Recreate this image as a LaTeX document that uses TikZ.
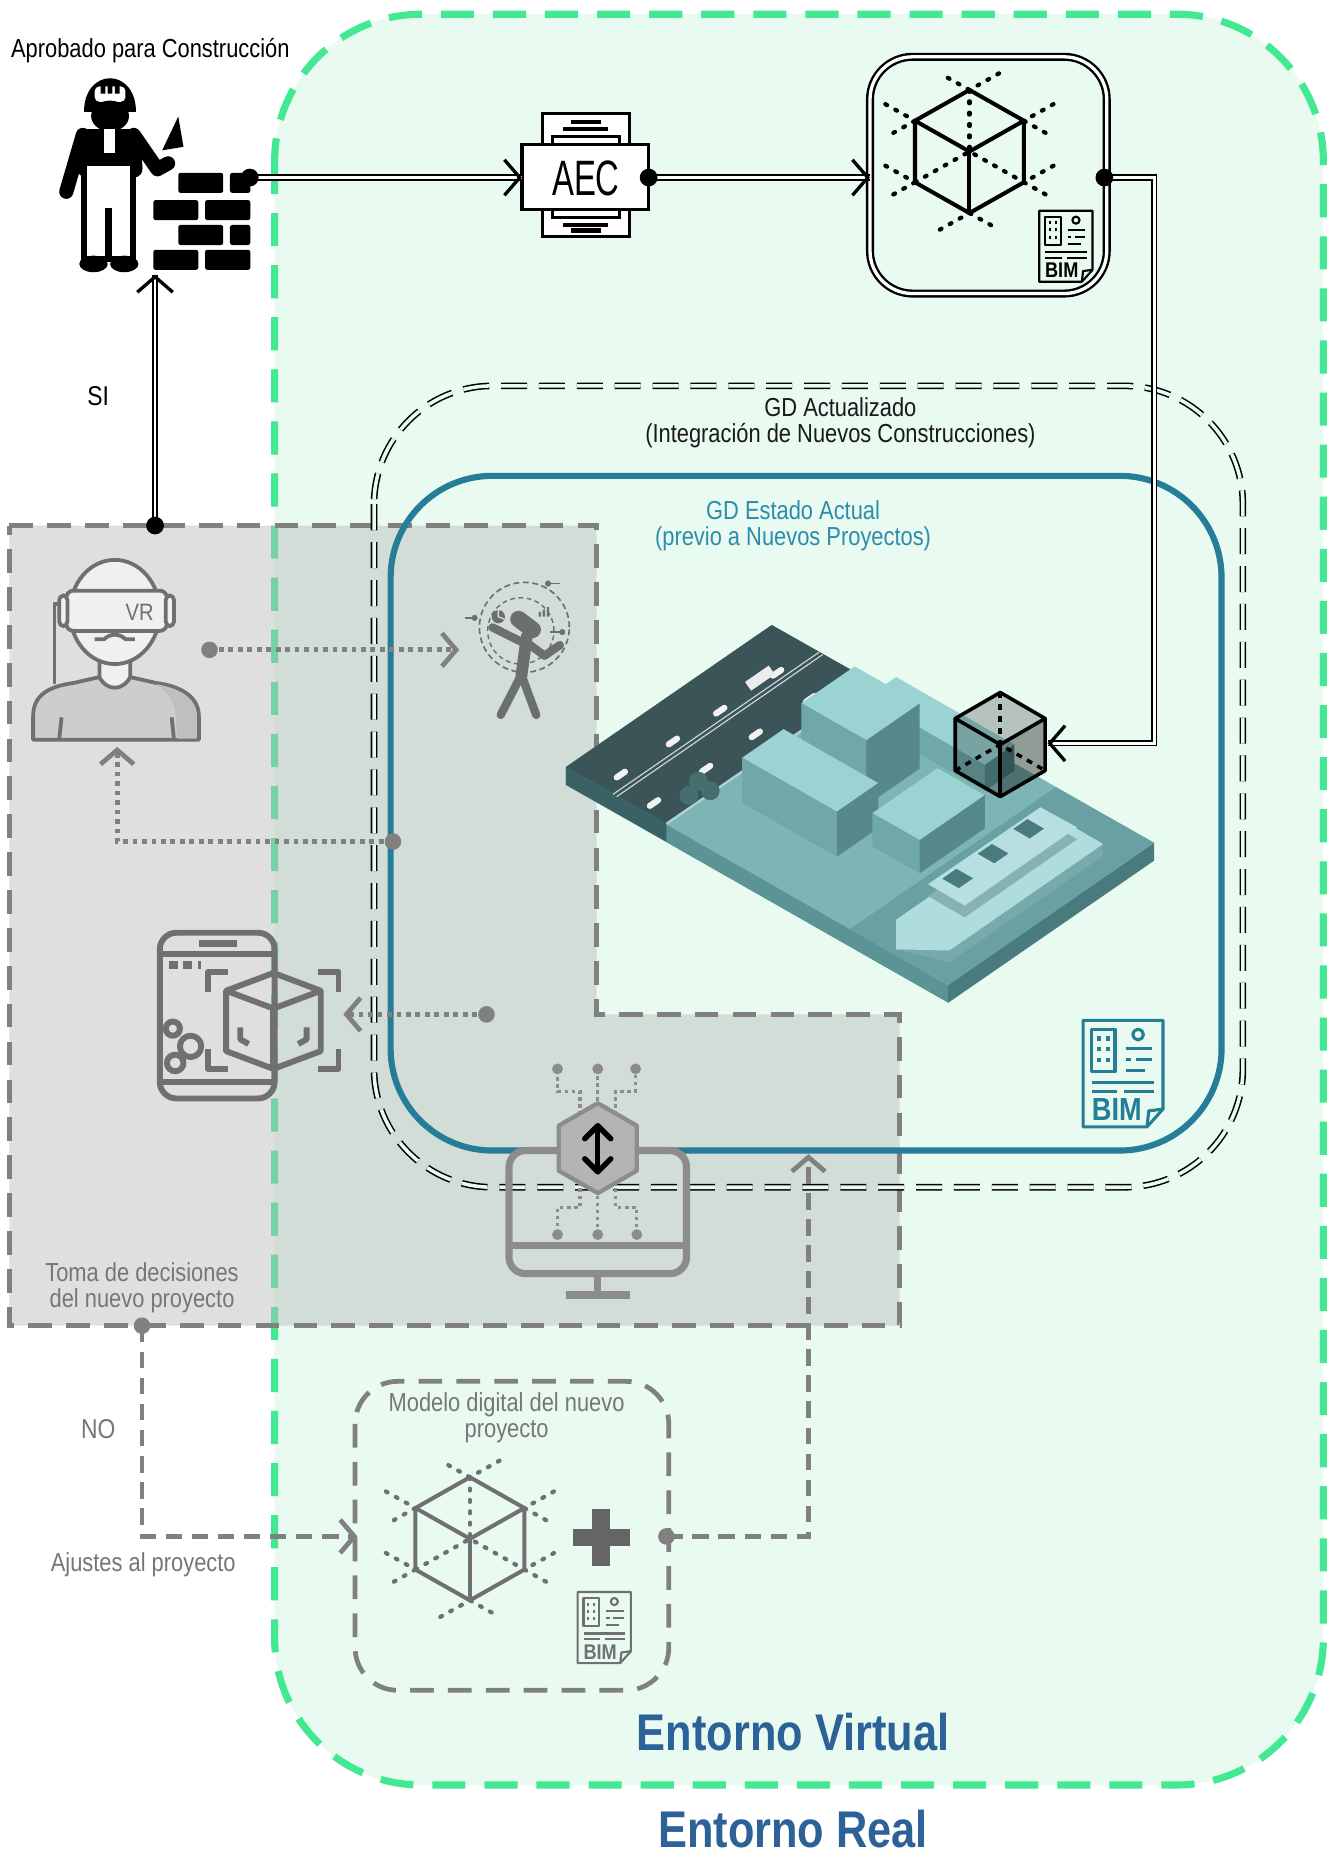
\documentclass[tikz,border=0pt]{standalone}
\usepackage{fontspec}
\setmainfont{Liberation Sans}
\usepackage{graphicx}
\usetikzlibrary{arrows.meta,calc}

\definecolor{mint}{RGB}{233,250,241}
\definecolor{envgreen}{RGB}{66,232,146}
\definecolor{gdteal}{RGB}{38,125,152}
\definecolor{gdtealtext}{RGB}{44,140,172}
\definecolor{envblue}{RGB}{45,98,152}
\definecolor{linegray}{RGB}{128,128,128}
\definecolor{textgray}{RGB}{118,118,118}
\definecolor{regiongray}{RGB}{184,184,184}
\definecolor{icongray}{RGB}{112,112,112}
\definecolor{figgray}{RGB}{107,111,110}
\definecolor{monigray}{RGB}{140,140,140}
\definecolor{hexfill}{RGB}{180,180,180}
\definecolor{shirt}{RGB}{205,205,205}
\definecolor{skin}{RGB}{240,240,240}
\definecolor{citytop}{RGB}{125,180,180}
\definecolor{cityleft}{RGB}{92,148,150}
\definecolor{cityright}{RGB}{72,122,126}
\definecolor{water}{RGB}{104,160,164}
\definecolor{road}{RGB}{58,84,88}
\definecolor{bldtop}{RGB}{155,210,210}
\definecolor{bldleft}{RGB}{112,168,170}
\definecolor{bldright}{RGB}{86,136,140}
\definecolor{shiplight}{RGB}{175,220,220}
\definecolor{shipside}{RGB}{120,170,172}
\definecolor{tree}{RGB}{70,110,110}

% horizontally condensed text
\newcommand{\cz}[1]{\scalebox{0.84}[1]{#1}}

% isometric box: x y (back ground corner), la, lb, h, top, left, right colours
\newcommand{\isobox}[8]{%
  \fill[#6] (#1,{#2-#5}) -- ({#1+#3},{#2+0.57*#3-#5}) -- ({#1+#3-#4},{#2+0.57*#3+0.69*#4-#5}) -- ({#1-#4},{#2+0.69*#4-#5}) -- cycle;
  \fill[#7] ({#1-#4},{#2+0.69*#4-#5}) -- ({#1+#3-#4},{#2+0.57*#3+0.69*#4-#5}) -- ({#1+#3-#4},{#2+0.57*#3+0.69*#4}) -- ({#1-#4},{#2+0.69*#4}) -- cycle;
  \fill[#8] ({#1+#3},{#2+0.57*#3-#5}) -- ({#1+#3-#4},{#2+0.57*#3+0.69*#4-#5}) -- ({#1+#3-#4},{#2+0.57*#3+0.69*#4}) -- ({#1+#3},{#2+0.57*#3}) -- cycle;}

% wireframe cube with dotted hidden edges and dotted extensions
\newcommand{\wirecube}[3]{%
  \begin{scope}[shift={(#1,#2)}, #3, line width=1.7pt, line cap=round, line join=round]
    \draw (0,-52) -- (-46,-26) -- (0,0) -- (46,-26) -- cycle;
    \draw (-46,-26) -- (-46,26) -- (0,52) -- (46,26) -- (46,-26);
    \draw (0,0) -- (0,52);
    \begin{scope}[dash pattern=on 0.8pt off 4pt, line width=1.8pt]
      \draw (0,-52) -- (0,0);
      \draw (-46,26) -- (0,0) -- (46,26);
      \draw (25,-66) -- (0,-52) -- (-25,-66);
      \draw (-71,-40) -- (-46,-26) -- (-71,-12);
      \draw (-71,12) -- (-46,26) -- (-71,40);
      \draw (71,-40) -- (46,-26) -- (71,-12);
      \draw (71,12) -- (46,26) -- (71,40);
      \draw (-25,66) -- (0,52) -- (25,66);
    \end{scope}
  \end{scope}}

% BIM sheet icon: x y (top left), scale, colour, line width, font size
\newcommand{\bimdoc}[6]{%
  \begin{scope}[shift={(#1,#2)}, scale=#3, #4, line width=#5, line join=round]
    \draw (0,0) -- (45,0) -- (45,50) -- (36,60) -- (0,60) -- cycle;
    \draw (45,50) -- (37,51) -- (36,60);
    \draw (5,5) rectangle (18,29);
    \foreach \wy in {9,15,21} {
      \fill (8,\wy) rectangle (10,{\wy+2.5});
      \fill (13,\wy) rectangle (15,{\wy+2.5});}
    \draw (31,8) circle[radius=3];
    \draw (24,16) -- (39,16);
    \draw (24,22) -- (27,22) (30,22) -- (39,22);
    \draw (24,28) -- (35,28);
    \draw (5,35) -- (40,35);
    \draw (5,40) -- (19,40) (23,40) -- (40,40);
    \node[inner sep=0pt, text=#4, font=\fontsize{#6}{#6}\selectfont\bfseries] at (19,50.5) {\scalebox{0.85}[1]{BIM}};
  \end{scope}}

\begin{document}
\begin{tikzpicture}[x=0.5pt,y=-0.5pt,
  txt/.style={inner sep=0pt, font=\fontsize{11}{11}\selectfont, align=center},
  envline/.style={draw=envgreen, line width=3pt, dash pattern=on 14pt off 8pt},
  regionline/.style={draw=linegray, line width=2pt, dash pattern=on 10pt off 6pt},
  dbldash/.style={draw=black, double=mint, double distance=1.5pt, line width=0.65pt, dash pattern=on 11pt off 5pt},
  dblbox/.style={draw=black, double=white, double distance=1.4pt, line width=1pt},
  dbl/.style={draw=black, double=white, double distance=1.2pt, line width=0.7pt},
  btip/.style={-{Straight Barb[length=6.5pt,width=15pt]}, line width=1.4pt, black},
  graydot/.style={draw=linegray, line width=2pt, dash pattern=on 2pt off 2pt},
  graydash/.style={draw=linegray, line width=2pt, dash pattern=on 7pt off 4pt},
  gtip/.style={-{Straight Barb[length=6pt,width=14pt]}},
  bdot/.style={circle, fill=black, inner sep=0pt, minimum size=7.5pt},
  gdot/.style={circle, fill=linegray, inner sep=0pt, minimum size=7pt},
  mon/.style={draw=monigray, line width=3pt}]

\useasboundingbox (0,0) rectangle (1124,1568);
\fill[white] (0,0) rectangle (1124,1568);

% ---------- virtual environment ----------
\draw[envline, fill=mint, rounded corners=62pt] (232,12) rectangle (1118,1508);

% ---------- decision region ----------
\fill[regiongray, fill opacity=0.44] (8,444) -- (504,444) -- (504,857) -- (760,857) -- (760,1120) -- (8,1120) -- cycle;
\draw[regionline] (8,444) -- (504,444) -- (504,857) -- (760,857) -- (760,1120) -- (8,1120) -- cycle;

% ---------- digital twin frames ----------
\draw[dbldash, rounded corners=50pt] (316,326) rectangle (1050,1003);
\draw[draw=gdteal, line width=2.6pt, rounded corners=43pt] (330,402) rectangle (1032,972);

\node[txt, text=black!90] (gdact) at (710,357) {\cz{GD Actualizado}\\\cz{(Integración de Nuevos Construcciones)}};
\node[txt, text=gdtealtext] (gdest) at (670,444) {\cz{GD Estado Actual}\\\cz{(previo a Nuevos Proyectos)}};

% ---------- city model ----------
\isobox{652}{543}{323}{174}{15}{citytop}{cityleft}{cityright}
\fill[water] (892,665) -- (975,712) -- (801,832) -- (718,785) -- cycle;
\fill[road] (478,648) -- (652,528) -- (737,576) -- (563,696) -- cycle;
\fill[cityright!80!black] (478,648) -- (563,696) -- (563,711) -- (478,663) -- cycle;
\draw[white!75!road, line width=0.5pt] (518,671) -- (692,551);
\draw[white!75!road, line width=0.5pt] (521,673) -- (695,553);
\draw[citytop!60!white, line width=1pt] (563,696) -- (737,576);
\foreach \cx/\cy in {528/652,572/624,612/598,660/566,556/676,600/647,642/618,688/588}
  \draw[white!90!gray, line width=2.6pt, line cap=round] (\cx,\cy) -- ++(-7,4.8);
\draw[white!85!gray, line width=4.5pt] (652,566) -- ++(-20,13.8);
\foreach \tx/\ty in {590/660,600/668,582/672,738/596,748/588,756/598}
  \fill[tree] (\tx,\ty) circle[radius=4pt];
\isobox{757}{594}{100}{25}{22}{bldtop}{bldleft}{bldright}
\isobox{722}{618}{55}{45}{55}{bldtop}{bldleft}{bldright}
\isobox{662}{654}{80}{35}{38}{bldtop}{bldleft}{bldright}
\isobox{792}{677}{40}{55}{28}{bldtop}{bldleft}{bldright}
% ship
\fill[shipside] (757,777) -- (757,802) -- (802,813) -- (932,723) -- (932,713) -- (802,803) -- cycle;
\fill[shiplight] (887,687) -- (932,713) -- (802,803) -- (757,802) -- (757,777) -- cycle;
\fill[shipside!90!white] (879,691) -- (910,709) -- (815,775) -- (784,757) -- cycle;
\fill[shiplight!90!white] (879,682) -- (910,699) -- (815,765) -- (784,747) -- cycle;
\foreach \sx/\sy in {868/692,838/713,808/734}
  \fill[cityright] (\sx,\sy) -- ++(14,8) -- ++(-12,8.3) -- ++(-14,-8) -- cycle;

% highlighted building volume
\begin{scope}[shift={(845,629)}, line width=1.5pt, line join=round]
  \fill[black, opacity=0.22] (0,-44) -- (38,-22) -- (38,22) -- (0,44) -- (-38,22) -- (-38,-22) -- cycle;
  \fill[black, opacity=0.2] (0,0) -- (38,-22) -- (38,22) -- (0,44) -- cycle;
  \draw (0,-44) -- (-38,-22) -- (0,0) -- (38,-22) -- cycle;
  \draw (-38,-22) -- (-38,22) -- (0,44) -- (38,22) -- (38,-22);
  \draw (0,0) -- (0,44);
  \draw[dash pattern=on 2.5pt off 2.5pt] (0,-44) -- (0,0);
  \draw[dash pattern=on 2.5pt off 2.5pt] (-38,22) -- (0,0) -- (38,22);
\end{scope}

\bimdoc{915}{862}{1.5}{gdteal}{1.3pt}{13.5}

% ---------- worker laying bricks ----------
\begin{scope}[black]
  % helmet and head
  \fill (71,95) .. controls (71,57) and (115,57) .. (115,95) -- cycle;
  \fill[white, rounded corners=2pt] (80,73) rectangle (106,86);
  \fill (85,72) rectangle (89,79) (91,72) rectangle (95,79) (97,72) rectangle (101,79);
  \fill (93,98) ellipse[x radius=8pt, y radius=6.5pt];
  % torso, bib and arms
  \fill[rounded corners=4pt] (65,150) -- (67,109) -- (118,109) -- (121,150) -- cycle;
  \fill[white] (88,109) rectangle (97,129);
  \draw[line width=6pt, line cap=round] (70,114) -- (56,162);
  \draw[line width=6pt, line cap=round, line join=round] (113,114) -- (133,143) -- (142,138);
  \fill (137,127) -- (150.6,98.5) -- (155,124) -- cycle;
  % overalls and boots
  \draw[line width=2.5pt, fill=white] (71,138) rectangle (112.5,219);
  \draw[line width=3pt] (91.5,176) -- (91.5,219);
  \fill (79,223) ellipse[x radius=6pt, y radius=3.5pt];
  \fill (105,223) ellipse[x radius=6pt, y radius=3.5pt];
  % brick wall
  \foreach \by in {146,190} {
    \fill[rounded corners=1pt] (150.6,\by) rectangle (188.6,{\by+17});
    \fill[rounded corners=1pt] (194.3,\by) rectangle (211.5,{\by+17});}
  \foreach \by in {169,211} {
    \fill[rounded corners=1pt] (129.5,\by) rectangle (167.5,{\by+17});
    \fill[rounded corners=1pt] (173.2,\by) rectangle (211.5,{\by+17});}
\end{scope}
\node[txt] (aprob) at (127,43) {\cz{Aprobado para Construcción}};
\node[txt, font=\fontsize{11.5}{11.5}\selectfont] (si) at (83,335) {\cz{SI}};

% ---------- AEC document ----------
\begin{scope}[line width=1.3pt]
  \draw[fill=white] (458,96) rectangle (532,200);
  \draw[line width=2pt] (482,103) -- (508,103);
  \draw[line width=2pt] (476,109) -- (514,109);
  \draw[fill=white] (467,115) rectangle (523,184);
  \draw[line width=2pt] (476,190) -- (514,190);
  \draw[line width=2pt] (482,195) -- (508,195);
  \draw[fill=white] (441,122) rectangle (548,177);
\end{scope}
\node[inner sep=0pt, font=\fontsize{21}{21}\selectfont] (aec) at (495,151) {\scalebox{0.66}[1]{AEC}};

% ---------- BIM model ----------
\draw[dblbox, rounded corners=18pt] (735,48) rectangle (935,248);
\wirecube{819}{128}{black}
\bimdoc{878}{178}{1}{black}{0.9pt}{9}

% ---------- VR user ----------
\begin{scope}[draw=icongray, line width=1.6pt, line join=round]
  \draw (55,510) -- (46,510) -- (46,578);
  \draw[fill=shirt] (28,625) -- (28,605) .. controls (28,588) and (40,580) .. (62,577) -- (84,572) .. controls (90,582) and (104,582) .. (110,572) -- (132,577) .. controls (155,580) and (168,590) .. (168,605) -- (168,625) -- cycle;
  \fill[icongray!45!white] (132,578) .. controls (155,582) and (166,592) .. (166,606) -- (166,624) -- (150,624) -- (148,600) .. controls (146,590) and (140,584) .. (132,578) -- cycle;
  \draw[fill=skin] (84,548) -- (84,572) .. controls (90,584) and (104,584) .. (110,572) -- (110,548);
  \draw[fill=skin] (97,517) ellipse[x radius=19pt, y radius=22pt];
  \draw[fill=skin, rounded corners=3pt] (56,499) rectangle (141,533);
  \draw[fill=skin, rounded corners=2pt] (50,503) rectangle (57,529);
  \draw[fill=skin, rounded corners=2pt] (140,503) rectangle (147,529);
  \draw (80,540) -- (88,540) .. controls (93,535) and (101,535) .. (106,540) -- (114,540);
  \draw (52,606) -- (50,625);
  \draw (145,606) -- (147,625);
\end{scope}
\node[inner sep=0pt, text=icongray, font=\fontsize{10}{10}\selectfont] (vr) at (118,517) {\scalebox{0.85}[1]{VR}};

% ---------- VR interaction figure ----------
\begin{scope}[figgray]
  \draw[line width=0.7pt, dash pattern=on 2.5pt off 1.5pt] (443,530) circle[radius=19pt];
  \draw[line width=0.6pt, dash pattern=on 2pt off 1.5pt] (440,533) circle[radius=14pt];
  \draw[line width=0.7pt] (393,522) -- (401,522) (463,493) -- (473,493) (465,534) -- (475,534);
  \fill (401,522) circle[radius=1.3pt] (463,493) circle[radius=1.3pt] (475,534) circle[radius=1.3pt];
  \draw[line width=7pt, line cap=round] (438,523) -- (450,532);
  \draw[line width=5pt, line cap=round] (445,538) -- (440.5,571);
  \draw[line width=3.5pt, line cap=round] (440.5,570) -- (423,604);
  \draw[line width=3.5pt, line cap=round] (440.5,570) -- (453,604);
  \draw[line width=3.5pt, line cap=round] (440,542) -- (416,530);
  \draw[line width=3.5pt, line cap=round, line join=round] (448,545) -- (460,554) -- (473,545);
  \fill (421,521) circle[radius=2.8pt];
  \draw[white!80!figgray, line width=0.5pt] (421,515.4) -- (421,521) -- (426,523);
  \fill (455,517) rectangle (457,521) (458.5,515) rectangle (460.5,521) (462,513) rectangle (464,521);
\end{scope}

% ---------- AR phone ----------
\begin{scope}[draw=icongray, line width=2.5pt, line join=round]
  \draw[rounded corners=7pt] (135,788) rectangle (232,928);
  \draw[line width=3pt] (168,797) -- (200,797);
  \draw (135,806) -- (232,806);
  \draw (135,914) -- (232,914);
  \draw[line width=3.5pt, dash pattern=on 3.5pt off 2.5pt] (143,815) -- (170,815);
  \draw (146,869) circle[radius=3pt];
  \draw (161,884) circle[radius=4.5pt];
  \draw (148,898) circle[radius=3.5pt];
  \draw (176,838) -- (176,821) -- (193,821);
  \draw (269,821) -- (286,821) -- (286,838);
  \draw (176,886) -- (176,903) -- (193,903);
  \draw (269,903) -- (286,903) -- (286,886);
  \draw (191,837) -- (231,822) -- (271,837) -- (231,852) -- cycle;
  \draw (191,837) -- (191,888) -- (231,903) -- (271,888) -- (271,837);
  \draw (231,852) -- (231,903);
  \draw (203,868) -- (203,878) -- (210,882);
  \draw (259,868) -- (259,878) -- (252,882);
\end{scope}

% ---------- shared-data screen ----------
\draw[mon, rounded corners=7pt] (430,972) rectangle (580,1076);
\draw[mon] (430,1052) -- (580,1052);
\draw[mon] (505,1076) -- (505,1092);
\draw[mon] (478,1094) -- (532,1094);
\begin{scope}[draw=monigray, line width=1.3pt, dash pattern=on 1.5pt off 1.5pt]
  \draw (505,936) -- (505,903);
  \draw (490,942) -- (490,922) -- (471,922) -- (471,903);
  \draw (520,942) -- (520,922) -- (537,922) -- (537,903);
  \draw (505,1004) -- (505,1043);
  \draw (490,998) -- (490,1020) -- (471,1020) -- (471,1043);
  \draw (520,998) -- (520,1020) -- (538,1020) -- (538,1043);
\end{scope}
\foreach \px/\py in {471/903,505/903,537/903,471/1043,505/1043,538/1043}
  \fill[monigray] (\px,\py) circle[radius=2.3pt];
\draw[draw=monigray, fill=hexfill, line width=1.8pt, line join=round] (505,932) -- (538,951) -- (538,989) -- (505,1008) -- (472,989) -- (472,951) -- cycle;
\begin{scope}[black, line width=2.3pt, line cap=round, line join=round]
  \draw (505,953) -- (505,988);
  \draw (494,962) -- (505,951) -- (516,962);
  \draw (494,979) -- (505,990) -- (516,979);
\end{scope}

% ---------- new project model ----------
\draw[regionline, rounded corners=18pt] (300,1167) rectangle (565,1428);
\node[txt, text=textgray] (modelo) at (428,1198) {\cz{Modelo digital del nuevo}\\\cz{proyecto}};
\wirecube{397}{1300}{icongray}
\fill[icongray!90!black] (500.5,1275) rectangle (515.5,1323);
\fill[icongray!90!black] (484,1291.5) rectangle (532,1306.5);
\bimdoc{488}{1345}{1}{icongray}{0.9pt}{9}

% ---------- texts ----------
\node[txt, text=textgray] (toma) at (120,1088) {\cz{Toma de decisiones}\\\cz{del nuevo proyecto}};
\node[txt, text=textgray, font=\fontsize{11.5}{11.5}\selectfont] (no) at (83,1207) {\cz{NO}};
\node[txt, text=textgray] (ajustes) at (121,1322) {\cz{Ajustes al proyecto}};
\node[inner sep=0pt, text=envblue, font=\fontsize{21.8}{21.8}\selectfont\bfseries] (virtual) at (670,1463) {\cz{Entorno Virtual}};
\node[inner sep=0pt, text=envblue, font=\fontsize{21.8}{21.8}\selectfont\bfseries] (real) at (670,1545) {\cz{Entorno Real}};

% ---------- connectors ----------
\coordinate (pBrick) at (211,150);
\coordinate (pAecIn) at (441,150);
\coordinate (pAecOut) at (548,150);
\coordinate (pBimIn) at (735,150);
\coordinate (pBimOut) at (933,150);
\coordinate (pBend) at (975,628);
\coordinate (pCubeIn) at (885,628);
\coordinate (pDecTop) at (131,444);
\coordinate (pWorkerIn) at (131,232);
\coordinate (pVrOut) at (177,549);
\coordinate (pGestIn) at (388,549);
\coordinate (pTwinOut) at (332,711);
\coordinate (pVrIn) at (99,631);
\coordinate (pArOut) at (411,857);
\coordinate (pArIn) at (290,857);
\coordinate (pDecBot) at (120,1120);
\coordinate (pModIn) at (302,1298);
\coordinate (pModOut) at (563,1298);
\coordinate (pTwinIn) at (683,975);

\draw[dbl] (pBrick) -- (pAecIn);
\draw[btip] ($(pAecIn)+(-2,0)$) -- (pAecIn);
\draw[dbl] (pAecOut) -- (pBimIn);
\draw[btip] ($(pBimIn)+(-2,0)$) -- (pBimIn);
\draw[dbl] (pBimOut) -| (pBend) -- (pCubeIn);
\draw[btip] ($(pCubeIn)+(2,0)$) -- (pCubeIn);
\draw[dbl] (pDecTop) -- (pWorkerIn);
\draw[btip] ($(pWorkerIn)+(0,2)$) -- (pWorkerIn);

\draw[graydot, gtip] (pVrOut) -- (pGestIn);
\draw[graydot, gtip] (pTwinOut) -| (pVrIn);
\draw[graydot, gtip] (pArOut) -- (pArIn);
\draw[graydash, gtip] (pDecBot) |- (pModIn);
\draw[graydash, gtip] (pModOut) -| (pTwinIn);

\node[bdot] (dotBrick) at (pBrick) {};
\node[bdot] (dotAec) at (pAecOut) {};
\node[bdot] (dotBim) at (pBimOut) {};
\node[bdot] (dotDecTop) at (pDecTop) {};
\node[gdot] (dotVr) at (pVrOut) {};
\node[gdot] (dotTwin) at (pTwinOut) {};
\node[gdot] (dotAr) at (pArOut) {};
\node[gdot] (dotDecBot) at (pDecBot) {};
\node[gdot] (dotMod) at (pModOut) {};
\end{tikzpicture}
\end{document}
